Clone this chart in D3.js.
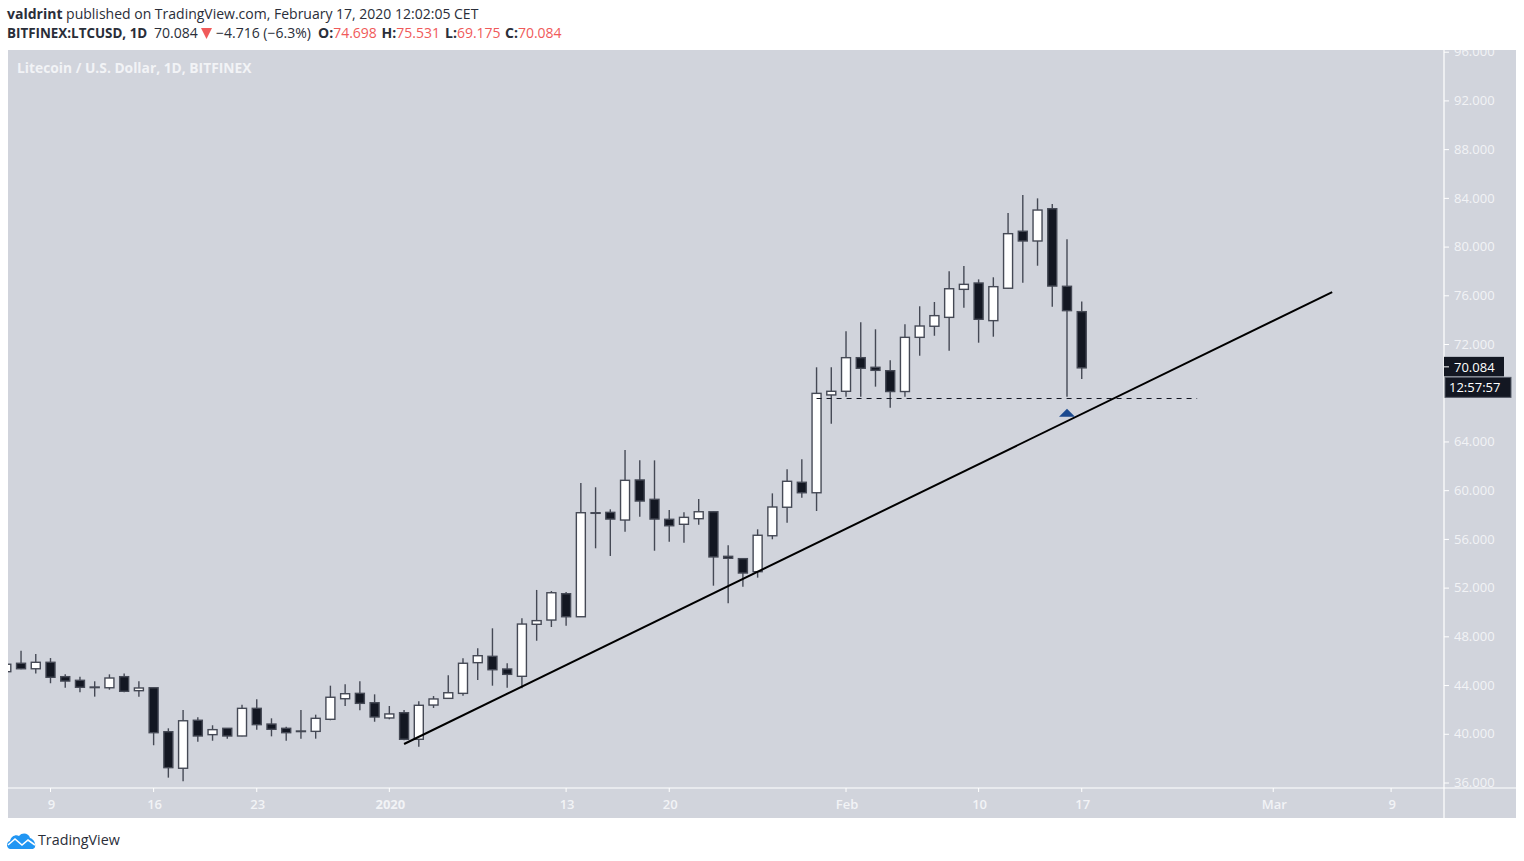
<!DOCTYPE html>
<meta charset="utf-8">
<style>
html, body { margin: 0; padding: 0; background: #fff; }
svg { display: block; }
text { font-family: "Open Sans", "Noto Sans", sans-serif; }
.head { font-size: 14px; fill: #2a2e39; }
.red { fill: #f05a5a; }
.axis-label { font-size: 13px; fill: #f2f3f6; }
</style>
<svg width="1524" height="861"></svg>
<script src="https://d3js.org/d3.v7.min.js"></script>
<script>

// daily candles, 6 Dec 2019 .. 17 Feb 2020
var firstDay = "2019-12-06";
var opens = [45.14,45.83,45.38,45.91,44.73,44.43,43.86,43.82,44.73,43.58,43.82,40.21,37.21,41.15,39.97,40.49,39.86,42.13,40.84,40.49,40.25,40.24,41.23,42.92,43.36,42.59,
  41.34,41.77,39.59,42.40,42.95,43.36,45.88,46.40,45.36,44.76,49.03,49.38,51.54,49.65,58.15,58.22,57.59,60.88,59.29,57.65,57.24,57.70,58.27,54.61,54.42,53.35,56.30,58.64,60.69,59.83,
  67.86,68.16,70.92,70.13,69.85,68.14,72.59,73.50,74.23,76.53,77.05,73.96,76.62,81.30,80.50,83.15,76.78,74.698];
var highs = [46.00,46.86,46.59,46.26,44.92,44.73,44.35,44.92,45.00,44.35,43.82,40.49,41.99,41.39,40.74,40.52,42.43,42.87,41.31,40.62,41.99,41.61,43.99,44.10,44.35,43.28,
  42.32,41.99,42.71,43.14,44.84,46.24,47.06,48.70,45.83,49.52,51.85,51.76,51.68,60.63,60.28,58.47,63.34,62.49,62.49,58.41,58.22,59.32,58.30,55.52,54.45,56.83,59.78,61.76,62.58,70.13,
  70.13,73.09,73.82,73.25,70.70,73.66,75.14,75.49,78.01,78.45,77.35,77.52,82.80,84.28,84.00,83.54,80.64,75.531];
var lows = [45.00,45.33,45.00,44.19,43.82,43.45,43.09,43.66,43.45,43.09,39.10,36.44,36.14,39.39,39.47,39.64,39.84,40.38,39.83,39.47,39.64,39.64,41.15,42.32,41.97,41.03,
  41.23,39.50,38.98,42.16,42.90,43.17,44.46,43.99,43.82,43.78,47.68,48.81,48.91,49.62,55.27,54.64,56.63,57.86,55.07,55.81,55.73,57.21,52.20,50.75,52.12,52.86,56.01,57.37,59.42,58.33,
  65.50,67.72,67.72,68.54,66.81,67.72,71.08,72.72,71.49,75.02,72.15,72.64,76.60,77.08,78.47,75.10,67.72,69.175];
var closes = [45.75,45.38,45.91,44.68,44.37,43.86,43.88,44.62,43.53,43.80,40.13,37.26,41.11,39.86,40.38,39.86,42.13,40.79,40.41,40.13,40.27,41.31,43.04,43.33,42.54,41.42,
  41.67,39.59,42.38,42.90,43.41,45.83,46.45,45.30,44.92,49.05,49.33,51.62,49.65,58.19,58.19,57.67,60.85,59.15,57.67,57.12,57.81,58.27,54.56,54.45,53.24,56.34,58.66,60.77,59.83,67.99,
  68.16,70.92,70.05,69.88,68.14,72.59,73.52,74.37,76.58,76.94,74.07,76.75,81.10,80.50,83.04,76.80,74.78,70.084];

// 68.000 sits behind the countdown box in the reference
var priceTicks = [36,40,44,48,52,56,60,64,72,76,80,84,88,92,96];
var dateTickDays = ["2019-12-09","2019-12-16","2019-12-23","2020-01-01","2020-01-13","2020-01-20","2020-02-01","2020-02-10","2020-02-17","2020-03-01","2020-03-09"];
var dateTickLabels = ["9","16","23","2020","13","20","Feb","10","17","Mar","9"];

// drawings on the chart
var trendDays = ["2020-01-02","2020-03-05"], trendPrices = [39.2,76.31];
var levelDays = ["2020-01-30","2020-02-24T20:00"], levelPrice = 67.57;
var markDay = "2020-02-16", markPrice = 66.73;
var lastPrice = 70.084, countdown = "12:57:57";

var svg = d3.select("svg");
var panel = {left: 8, right: 1516, top: 50, bottom: 818},
plot = {right: 1444, bottom: 788};

var parseDay = function(s) { return new Date(s + (s.length > 10 ? ":00Z" : "T00:00Z")); };

var x = d3.scaleUtc().domain([parseDay("2019-12-09"), parseDay("2020-03-09")]).range([50.5, 1391.1]);
var y = d3.scaleLinear().domain([36, 96]).range([783, 52.2]);

var candles = opens.map(function(o, i) {
  return {
    date: d3.utcDay.offset(parseDay(firstDay), i),
    open: o, high: highs[i], low: lows[i], close: closes[i]
  };
});

var bg = "#d1d4dc", dark = "#131722", edge = "#454955";

svg.append("rect").attr("x", panel.left).attr("y", panel.top)
  .attr("width", panel.right - panel.left).attr("height", panel.bottom - panel.top)
  .attr("fill", bg);

var defs = svg.append("defs");
defs.append("clipPath").attr("id", "plot-clip").append("rect")
  .attr("x", panel.left).attr("y", panel.top)
  .attr("width", plot.right - panel.left).attr("height", plot.bottom - panel.top);
defs.append("clipPath").attr("id", "yaxis-clip").append("rect")
  .attr("x", plot.right).attr("y", panel.top)
  .attr("width", panel.right - plot.right).attr("height", plot.bottom - panel.top);

// header
var line1 = svg.append("text").attr("class", "head").attr("x", 7).attr("y", 19);
line1.append("tspan").attr("font-weight", 700).text("valdrint");
line1.append("tspan").text(" published on TradingView.com, February 17, 2020 12:02:05 CET");

var line2 = svg.append("text").attr("class", "head").attr("y", 38);
line2.append("tspan").attr("x", 7).attr("font-weight", 700).attr("font-size", 13.4).text("BITFINEX:LTCUSD, 1D");
line2.append("tspan").attr("x", 154).text("70.084");
line2.append("tspan").attr("x", 216).text("\u22124.716 (\u22126.3%)");
[["O:", "74.698", 318], ["H:", "75.531", 381.5], ["L:", "69.175", 445], ["C:", "70.084", 505]].forEach(function(p) {
  line2.append("tspan").attr("x", p[2]).attr("font-weight", 700).text(p[0]);
  line2.append("tspan").attr("class", "red").text(p[1]);
});
svg.append("path").attr("d", "M201,28 L212,28 L206.5,39 Z").attr("fill", "#f05a5a");

svg.append("text").attr("x", 17).attr("y", 73)
  .attr("font-size", 13.8).attr("font-weight", 700).attr("fill", "#f2f3f6")
  .text("Litecoin / U.S. Dollar, 1D, BITFINEX");

// candles
var g = svg.append("g").attr("clip-path", "url(#plot-clip)");
var candle = g.selectAll(".candle").data(candles).enter().append("g").attr("class", "candle");

candle.append("line")
  .attr("x1", function(d) { return x(d.date); })
  .attr("x2", function(d) { return x(d.date); })
  .attr("y1", function(d) { return y(d.high); })
  .attr("y2", function(d) { return y(d.low); })
  .attr("stroke", edge).attr("stroke-width", 1.4);

candle.append("rect")
  .attr("x", function(d) { return x(d.date) - 4.5; })
  .attr("width", 9)
  .attr("y", function(d) { return y(Math.max(d.open, d.close)); })
  .attr("height", function(d) { return Math.max(0.6, Math.abs(y(d.open) - y(d.close))); })
  .attr("fill", function(d) { return d.close >= d.open ? "#fff" : dark; })
  .attr("stroke", edge).attr("stroke-width", 1.4);

// drawings
g.append("line")
  .attr("x1", x(parseDay(levelDays[0]))).attr("x2", x(parseDay(levelDays[1])))
  .attr("y1", y(levelPrice)).attr("y2", y(levelPrice))
  .attr("stroke", "#131722").attr("stroke-width", 1.2).attr("stroke-dasharray", "5 5");

g.append("line")
  .attr("x1", x(parseDay(trendDays[0]))).attr("x2", x(parseDay(trendDays[1])))
  .attr("y1", y(trendPrices[0])).attr("y2", y(trendPrices[1]))
  .attr("stroke", "#000").attr("stroke-width", 2);

var mx = x(parseDay(markDay)), my = y(markPrice);
g.append("path")
  .attr("d", d3.line()([[mx, my], [mx + 8, my + 8], [mx - 8, my + 8]]) + "Z")
  .attr("fill", "#1c4a8f");

// axes
svg.append("line").attr("x1", plot.right).attr("x2", plot.right)
  .attr("y1", panel.top).attr("y2", panel.bottom)
  .attr("stroke", "#fff").attr("stroke-width", 1.2);
svg.append("line").attr("x1", panel.left).attr("x2", panel.right)
  .attr("y1", plot.bottom).attr("y2", plot.bottom)
  .attr("stroke", "#fff").attr("stroke-width", 1.2);

var yAxis = svg.append("g").attr("clip-path", "url(#yaxis-clip)")
  .selectAll("g").data(priceTicks).enter().append("g")
  .attr("transform", function(d) { return "translate(" + plot.right + "," + y(d) + ")"; });
yAxis.append("line").attr("x2", 5).attr("stroke", "#fff");
yAxis.append("text").attr("class", "axis-label").attr("x", 10).attr("dy", "0.32em")
  .text(function(d) { return d.toFixed(3); });

var xAxis = svg.append("g").selectAll("g").data(dateTickDays).enter().append("g")
  .attr("transform", function(d) { return "translate(" + x(parseDay(d)) + "," + plot.bottom + ")"; });
xAxis.append("line").attr("y2", 4).attr("stroke", "#fff");
xAxis.append("text").attr("class", "axis-label").attr("x", 1).attr("y", 21).attr("text-anchor", "middle")
  .attr("font-weight", function(d, i) { return dateTickLabels[i] == "2020" ? 700 : 600; })
  .text(function(d, i) { return dateTickLabels[i]; });

// last price and countdown
var ly = y(lastPrice) - 1;
svg.append("rect").attr("x", plot.right).attr("y", ly - 10)
  .attr("width", 60).attr("height", 19.5).attr("fill", dark);
svg.append("line").attr("x1", plot.right).attr("x2", plot.right + 5)
  .attr("y1", ly).attr("y2", ly).attr("stroke", "#fff");
svg.append("text").attr("class", "axis-label").attr("x", plot.right + 10).attr("y", ly)
  .attr("dy", "0.36em").style("fill", "#fff").text(d3.format(".3f")(lastPrice));
svg.append("rect").attr("x", plot.right + 1).attr("y", ly + 10.5)
  .attr("width", 66).attr("height", 20).attr("fill", dark).attr("stroke", "#555a66");
svg.append("text").attr("class", "axis-label").attr("x", plot.right + 5).attr("y", ly + 20.5)
  .attr("dy", "0.36em").style("fill", "#fff").text(countdown);

// logo
var logo = svg.append("g").attr("transform", "translate(7,832)");
logo.append("path")
  .attr("d", "M3,17 C-1,16 -1,10 3,9 C4,4 9,2 12,4 C15,0 22,1 23,6 C27,7 29,12 28,15 C27.5,16.5 26,17 25,17 Z")
  .attr("fill", "#2196f3");
logo.append("path")
  .attr("d", "M1,13 L8,7 L15,13 L21,8 L28,13")
  .attr("fill", "none").attr("stroke", "#fff").attr("stroke-width", 1.6);
svg.append("text").attr("x", 38).attr("y", 845).attr("font-size", 14.3).attr("fill", "#2a2e39").text("TradingView");

</script>
